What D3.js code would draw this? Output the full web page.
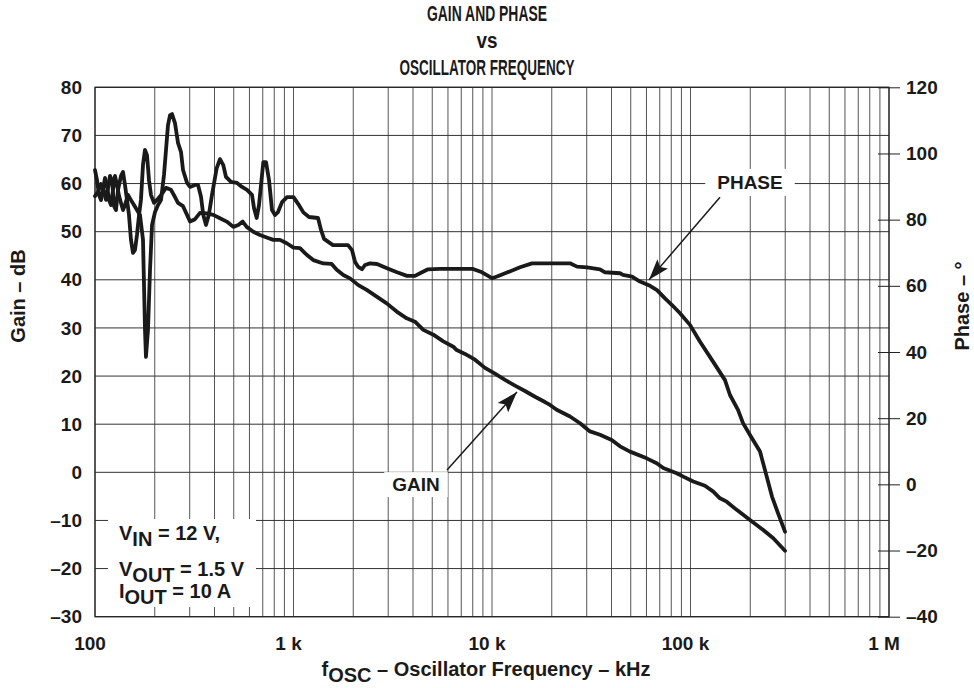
<!DOCTYPE html>
<html>
<head>
<meta charset="utf-8">
<script src="https://cdn.jsdelivr.net/npm/d3@7"></script>
<style>
  body { margin: 0; background: #fff; }
  text { font-family: "Liberation Sans", Arial, Helvetica, sans-serif; font-weight: bold; fill: #1a1a1a; }
</style>
</head>
<body>
<svg id="chart" width="974" height="688"></svg>
<script>
// gain, [frequency Hz, dB]
const gainData = [
  [100,57.4],[103.5,58.3],[107.2,59.9],[111,58.3],[113.6,56.6],[116.3,59.1],[119,61.6],[121.8,60.7],
  [124.7,55.3],[127.6,54.5],[130.6,58.7],[135.2,61.6],[138.4,62.4],[141.6,59.7],[145,56.6],[148.3,53.5],
  [151.8,48.3],[155.4,45.6],[159,46.2],[162.7,49.3],[166.7,53.5],[170.4,56.6],[174.5,63.9],[178.6,67.0],
  [182.8,65.9],[187.1,60.7],[191.5,57.6],[198.3,56.0],[205.3,56.6],[215,57.6],[227.9,59.1],[241.5,58.7],
  [252.9,57.2],[261.9,56.0],[277.6,55.3],[290.8,53.5],[301.1,52.1],[319.1,52.6],[338,53.9],[365.4,53.8],
  [394.5,53.5],[426.2,52.8],[460.9,52.1],[497.4,51.0],[527.2,51.4],[554.9,52.1],[581,51.0],[627.4,50.0],
  [678.1,49.3],[732.8,48.8],[791.1,48.3],[855.1,48.3],[924,47.6],[1000,46.7],[1078,46.6],[1165,45.2],
  [1258,44.1],[1413,43.4],[1557,43.3],[1651,42.1],[1782,41.0],[1926,40.3],[2121,38.9],[2338,37.9],
  [2625,36.5],[2948,35.1],[3311,33.4],[3718,32.0],[4093,31.3],[4507,29.6],[5062,28.6],[5684,27.2],
  [6383,26.1],[6641,25.4],[7311,24.6],[8211,23.4],[9220,21.7],[10350,20.5],[11630,19.2],[13060,18.0],
  [14660,16.9],[16470,15.7],[18490,14.6],[19600,14.0],[21180,13.0],[24720,11.6],[27760,10.2],[31170,8.5],
  [35010,7.8],[40090,6.7],[44150,5.4],[49570,4.3],[60160,2.9],[67560,1.9],[72950,0.9],[85200,-0.2],
  [91990,-0.9],[103300,-1.9],[118300,-2.8],[130300,-4.0],[140800,-5.4],[152200,-6.1],[170900,-7.8],
  [199400,-9.9],[232600,-12.0],[261300,-13.7],[299300,-16.3]
];

// phase, [frequency Hz, degrees]
const phaseData = [
  [100,95.0],[102.3,92.0],[104.7,87.5],[107.2,85.9],[109.7,89.0],[112.3,92.6],[114.9,90.5],[117.6,85.9],
  [120.4,84.4],[123.2,89.0],[126.1,93.2],[129.1,90.5],[132.1,87.2],[135.2,85.0],[138.4,82.9],[141.6,84.4],
  [146.6,87.5],[151.8,85.9],[157.2,84.4],[162.7,82.9],[168.5,81.4],[174.5,73.9],[178.6,46.7],[180.6,38.5],
  [184.9,46.7],[189.3,64.8],[193.8,78.4],[200.6,82.3],[207.7,84.4],[215,85.9],[222.6,93.5],[227.9,101.1],
  [233.2,108.6],[238.8,111.6],[244.4,111.9],[252.9,109.2],[261.9,103.2],[271.3,100.4],[277.6,95.0],
  [290.8,91.1],[301.1,89.9],[319.1,90.5],[330.4,90.5],[342,86.9],[351.2,81.4],[362.4,78.4],[375.2,81.7],
  [388.5,87.5],[410.4,95.6],[426.2,98.3],[443,96.5],[457,92.9],[484.3,91.4],[519.4,91.1],[550.4,89.9],
  [583.3,89.0],[617.9,87.5],[632.4,83.5],[652.5,80.5],[670.2,84.4],[686,90.5],[704.5,97.4],[727,97.4],
  [752.7,92.0],[779.3,82.9],[807,81.4],[835.6,82.3],[875.4,85.3],[927.5,86.8],[1000,86.8],[1057,84.7],
  [1121,82.2],[1197,80.8],[1329,80.5],[1376,76.9],[1425,74.2],[1528,72.9],[1581,72.3],[1882,72.3],
  [1971,70.8],[2041,67.3],[2113,65.8],[2213,65.0],[2292,66.3],[2429,66.8],[2634,66.6],[2958,65.3],
  [3322,64.1],[3731,63.0],[4093,63.0],[4339,63.8],[4760,65.0],[5470,65.1],[6900,65.1],[8025,65.1],
  [8904,64.1],[10000,62.3],[10600,62.8],[11900,64.0],[13840,65.6],[15900,66.8],[18930,66.8],[24720,66.8],
  [26810,65.8],[30100,65.6],[35010,65.0],[37100,64.1],[44150,63.8],[45700,63.3],[50740,62.8],[55670,61.3],
  [62520,60.0],[67800,58.7],[74400,56.2],[80700,54.2],[88550,51.7],[99400,48.2],[111700,43.1],
  [129900,37.1],[149200,31.5],[158100,27.0],[173500,22.5],[183900,18.5],[199400,14.9],[224000,9.9],
  [237300,4.3],[257400,-3.7],[275900,-8.7],[299300,-14.3]
];

const gainTicks = d3.range(-30, 81, 10);
const phaseTicks = d3.range(-40, 121, 20);
const freqTicks = [100, 1e3, 1e4, 1e5, 1e6];
const freqTickLabels = ["100", "1 k", "10 k", "100 k", "1 M"];
const titleLines = ["GAIN AND PHASE", "vs", "OSCILLATOR FREQUENCY"];

const W = 974, H = 688;
const m = { top: 87.3, right: 85, bottom: 71.3, left: 95 };

const svg = d3.select("#chart");

const x = d3.scaleLog().domain([100, 1e6]).range([m.left, W - m.right]);
const yG = d3.scaleLinear().domain([-30, 80]).range([H - m.bottom, m.top]);
const yP = d3.scaleLinear().domain([-40, 120]).range([H - m.bottom, m.top]);

const dash = d => d < 0 ? "\u2013" + (-d) : String(d);

// grid
const grid = svg.append("g");
grid.selectAll("line.v").data(x.ticks()).enter().append("line")
  .attr("x1", d => x(d)).attr("x2", d => x(d))
  .attr("y1", m.top).attr("y2", H - m.bottom)
  .attr("stroke", "#555").attr("stroke-width", 1);
grid.selectAll("line.h").data(gainTicks).enter().append("line")
  .attr("x1", m.left).attr("x2", W - m.right)
  .attr("y1", d => yG(d)).attr("y2", d => yG(d))
  .attr("stroke", "#333").attr("stroke-width", 1);
svg.append("rect")
  .attr("x", m.left).attr("y", m.top)
  .attr("width", W - m.left - m.right).attr("height", H - m.top - m.bottom)
  .attr("fill", "none").attr("stroke", "#222").attr("stroke-width", 1.2);

// right phase axis, ticks straddle the frame
const pAxis = svg.append("g").attr("transform", `translate(${W - m.right},0)`)
  .call(d3.axisRight(yP).tickValues(phaseTicks).tickFormat(dash).tickSize(11).tickPadding(8));
pAxis.select(".domain").remove();
pAxis.selectAll(".tick line").attr("x1", -11).attr("stroke", "#222");
pAxis.selectAll(".tick text").attr("font-size", 19).attr("fill", "#1a1a1a")
  .attr("font-family", null).attr("x", 17);

// left gain labels
svg.append("g").selectAll("text").data(gainTicks).enter().append("text")
  .attr("x", 82).attr("y", d => yG(d)).attr("dy", "0.35em")
  .attr("text-anchor", "end").attr("font-size", 19).text(dash);

// bottom freq labels
svg.append("g").selectAll("text").data(freqTicks).enter().append("text")
  .attr("x", d => x(d) - 5).attr("y", 650)
  .attr("text-anchor", "middle").attr("font-size", 19)
  .text((d, i) => freqTickLabels[i]);

// title
svg.append("g").selectAll("text").data(titleLines).enter().append("text")
  .attr("x", 487).attr("y", (d, i) => 21 + i * 27)
  .attr("text-anchor", "middle").attr("font-size", 22)
  .attr("textLength", (d, i) => [120, 21, 175][i]).attr("lengthAdjust", "spacingAndGlyphs")
  .text(d => d);

// axis titles
svg.append("text").attr("transform", "translate(25,296) rotate(-90)")
  .attr("text-anchor", "middle").attr("font-size", 20).text("Gain \u2013 dB");
svg.append("text").attr("transform", "translate(969,306) rotate(-90)")
  .attr("text-anchor", "middle").attr("font-size", 20).text("Phase \u2013 \u00b0");
const xt = svg.append("text").attr("x", 486).attr("y", 676)
  .attr("text-anchor", "middle").attr("font-size", 20);
xt.append("tspan").text("f");
xt.append("tspan").attr("dy", 6).text("OSC");
xt.append("tspan").attr("dy", -6).text(" \u2013 Oscillator Frequency \u2013 kHz");

// condition box
svg.append("rect").attr("x", 108).attr("y", 519).attr("width", 148).attr("height", 88).attr("fill", "#fff");
const cond = [["V", "IN", " = 12 V,", 540], ["V", "OUT", " = 1.5 V", 576], ["I", "OUT", " = 10 A", 598]];
cond.forEach(c => {
  const t = svg.append("text").attr("x", 119).attr("y", c[3]).attr("font-size", 20);
  t.append("tspan").text(c[0]);
  t.append("tspan").attr("dy", 6).text(c[1]);
  t.append("tspan").attr("dy", -6).text(c[2]);
});

// curves
const lineG = d3.line().x(d => x(d[0])).y(d => yG(d[1]));
const lineP = d3.line().x(d => x(d[0])).y(d => yP(d[1]));
svg.append("path").attr("d", lineG(gainData))
  .attr("fill", "none").attr("stroke", "#1a1a1a").attr("stroke-width", 3.8)
  .attr("stroke-linejoin", "round").attr("stroke-linecap", "round");
svg.append("path").attr("d", lineP(phaseData))
  .attr("fill", "none").attr("stroke", "#1a1a1a").attr("stroke-width", 3.8)
  .attr("stroke-linejoin", "round").attr("stroke-linecap", "round");

// annotations
svg.append("defs").append("marker").attr("id", "ah")
  .attr("markerUnits", "userSpaceOnUse").attr("markerWidth", 22).attr("markerHeight", 14)
  .attr("refX", 21).attr("refY", 7).attr("orient", "auto")
  .append("path").attr("d", "M0,0 L21,7 L0,14 L4,7 Z").attr("fill", "#1a1a1a");

const phaseLabel = [199400, 89.3], phaseArrow = [[140800, 86.8], [61800, 61.8]];
const gainLabel = [4140, -3.9], gainArrow = [[5934, 0.5], [13360, 16.7]];

const annot = svg.append("g");
const pl = annot.append("text").attr("x", x(phaseLabel[0])).attr("y", yP(phaseLabel[1]))
  .attr("text-anchor", "middle").attr("font-size", 19).text("PHASE");
const pb = pl.node().getBBox();
annot.insert("rect", () => pl.node()).attr("x", pb.x - 12).attr("y", pb.y - 3)
  .attr("width", pb.width + 24).attr("height", pb.height + 6).attr("fill", "#fff");
annot.append("line")
  .attr("x1", x(phaseArrow[0][0])).attr("y1", yP(phaseArrow[0][1]))
  .attr("x2", x(phaseArrow[1][0])).attr("y2", yP(phaseArrow[1][1]))
  .attr("stroke", "#1a1a1a").attr("stroke-width", 1.5).attr("marker-end", "url(#ah)");

const gl = annot.append("text").attr("x", x(gainLabel[0])).attr("y", yG(gainLabel[1]))
  .attr("text-anchor", "middle").attr("font-size", 19).text("GAIN");
const gb = gl.node().getBBox();
annot.insert("rect", () => gl.node()).attr("x", gb.x - 8).attr("y", gb.y - 2)
  .attr("width", gb.width + 16).attr("height", gb.height + 4).attr("fill", "#fff");
annot.append("line")
  .attr("x1", x(gainArrow[0][0])).attr("y1", yG(gainArrow[0][1]))
  .attr("x2", x(gainArrow[1][0])).attr("y2", yG(gainArrow[1][1]))
  .attr("stroke", "#1a1a1a").attr("stroke-width", 1.5).attr("marker-end", "url(#ah)");
</script>
</body>
</html>
